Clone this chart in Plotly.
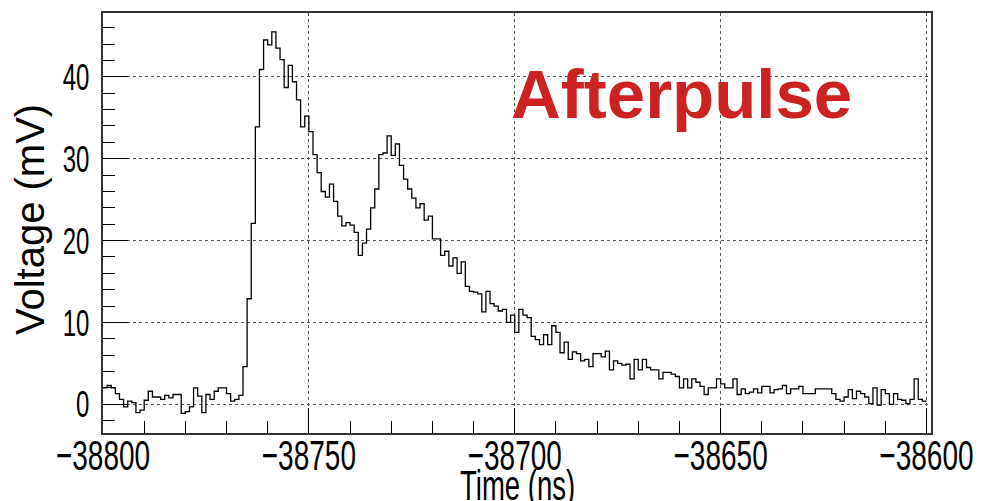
import plotly.graph_objects as go

# ---- data (1 ns bins starting at -38800 ns) ----
t_start = -38800.0
bin_width = 1.0
voltage_mV = [
    2.0, 2.3, 2.0, 1.3, 0.6, -0.3, 0.4, 0.2, -1.0, -0.7,
    0.5, 1.6, 0.9, 0.9, 0.6, 1.1, 0.8, 1.2, 1.2, -1.1,
    -0.9, -0.3, 2.0, 1.0, -1.0, 1.2, 0.6, 1.6, 2.0, 2.0,
    1.3, 0.4, 0.6, 1.1, 4.6, 12.9, 22.1, 33.9, 40.9, 44.5,
    43.9, 45.5, 43.5, 42.1, 38.7, 41.4, 39.4, 37.2, 33.9, 35.2,
    33.3, 30.5, 28.3, 26.0, 25.3, 26.9, 24.8, 23.0, 21.8, 22.2,
    21.9, 21.0, 18.2, 19.7, 21.4, 24.0, 26.3, 30.5, 30.7, 32.8,
    30.4, 31.8, 29.2, 27.5, 26.3, 25.2, 24.0, 24.5, 22.5, 23.0,
    20.2, 20.2, 18.2, 18.7, 16.9, 17.9, 16.0, 17.4, 14.4, 13.8,
    13.7, 13.5, 11.3, 13.8, 12.3, 12.0, 11.4, 11.6, 10.0, 10.9,
    8.8, 11.6, 10.9, 10.6, 8.3, 7.9, 7.3, 8.5, 7.3, 9.6,
    8.8, 6.3, 7.6, 5.5, 6.4, 6.2, 5.3, 5.5, 4.6, 6.2,
    6.2, 5.8, 6.5, 4.2, 5.3, 5.0, 4.8, 4.9, 3.1, 5.5,
    4.2, 5.5, 4.5, 4.2, 4.2, 3.1, 3.9, 3.9, 3.7, 3.4,
    2.0, 3.1, 2.0, 3.1, 2.7, 2.2, 1.2, 2.0, 2.0, 3.1,
    2.5, 2.0, 2.0, 3.1, 1.2, 1.9, 1.3, 1.5, 1.9, 1.4,
    2.2, 2.2, 1.4, 1.8, 1.9, 2.3, 1.3, 1.9, 1.9, 2.2,
    1.3, 1.3, 1.3, 1.9, 1.9, 1.9, 1.9, 1.3, 0.6, 0.4,
    0.9, 1.8, 0.7, 1.6, 1.3, 0.9, 0.1, 2.0, -0.1, 1.8,
    1.3, 0.0, 1.3, 0.6, 0.5, 0.1, 0.6, 3.1, 0.6, 0.4,
]
x_ticks = [-38800, -38750, -38700, -38650, -38600]
y_ticks = [0, 10, 20, 30, 40]
x_title = "Time (ns)"
y_title = "Voltage (mV)"
label_text = "Afterpulse"

# bin edges for a step histogram
edges = [t_start + i * bin_width for i in range(len(voltage_mV) + 1)]
ys = voltage_mV + [voltage_mV[-1]]

fig = go.Figure()
fig.add_trace(go.Scatter(
    x=edges, y=ys, mode="lines", line_shape="hv",
    line=dict(color="black", width=1.3), hoverinfo="skip", showlegend=False,
))

font_fam = "Liberation Sans, Arial, sans-serif"

fig.update_layout(
    width=985, height=501,
    margin=dict(l=103, r=48, t=11, b=68),
    paper_bgcolor="white", plot_bgcolor="white",
    showlegend=False,
    xaxis=dict(
        range=[-38800, -38598.9],
        tickvals=x_ticks, ticktext=["\u2212" + str(abs(v)) for v in x_ticks],
        ticks="inside", ticklen=25, tickwidth=1, tickcolor="black",
        minor=dict(dtick=10, tick0=-38800, ticks="inside", ticklen=12, tickcolor="black", showgrid=False),
        showgrid=True, gridcolor="#555", griddash="dot", gridwidth=1,
        zeroline=False, showline=True, mirror=True, linecolor="#333", linewidth=1.5,
        tickfont=dict(size=28, family=font_fam, color="black"),
        ticklabeloverflow="allow", ticklabelstandoff=0,
    ),
    yaxis=dict(
        range=[-3.5, 47.8],
        tickvals=y_ticks,
        ticks="inside", ticklen=25, tickwidth=1, tickcolor="black",
        minor=dict(dtick=2, tick0=0, ticks="inside", ticklen=12, tickcolor="black", showgrid=False),
        showgrid=True, gridcolor="#555", griddash="dot", gridwidth=1,
        zeroline=False, showline=True, mirror=True, linecolor="#333", linewidth=1.5,
        tickfont=dict(size=24, family=font_fam, color="black"),
        ticklabelstandoff=7,
    ),
    annotations=[
        dict(text=y_title, xref="paper", yref="paper", x=0, y=0.507, xanchor="center", yanchor="middle",
             xshift=-73, textangle=-90, showarrow=False,
             font=dict(family=font_fam, size=40, color="black")),
        dict(text=x_title, xref="paper", yref="paper", x=0.501, y=0, xanchor="center", yanchor="top",
             yshift=-35, showarrow=False,
             font=dict(family=font_fam, size=27.5, color="black")),
        dict(text="<b>" + label_text + "</b>", xref="paper", yref="paper", x=(513 - 103) / 834, y=(433 - 98) / 422,
             xanchor="left", yanchor="middle", xshift=-1, yshift=5, showarrow=False,
             font=dict(family=font_fam, size=69, color="#cc2222")),
    ],
)

# stretch the tick labels and the x title vertically, like the tall ROOT lettering
post_js = """
var gd = document.getElementById('{plot_id}');
var S = 1.55;
function stretchEl(t, dy){
  if (t.getAttribute('data-stretched')) return;
  var bb = t.getBBox();
  var cx = bb.x + bb.width/2, cy = bb.y + bb.height/2;
  var tr = t.getAttribute('transform') || '';
  t.setAttribute('transform', tr + ' translate(' + cx + ',' + (cy + dy) + ') scale(1,' + S + ') translate(' + (-cx) + ',' + (-cy) + ')');
  t.setAttribute('data-stretched', '1');
}
function stretchAll(){
  gd.querySelectorAll('.xtick text').forEach(function(t){ stretchEl(t, -4); });
  gd.querySelectorAll('.ytick text').forEach(function(t){ stretchEl(t, 0); });
  gd.querySelectorAll('g.annotation[data-index="1"] text').forEach(function(t){ stretchEl(t, 0); });
}
stretchAll();
gd.on('plotly_afterplot', stretchAll);
"""

fig.write_html("out.html", post_script=post_js)
